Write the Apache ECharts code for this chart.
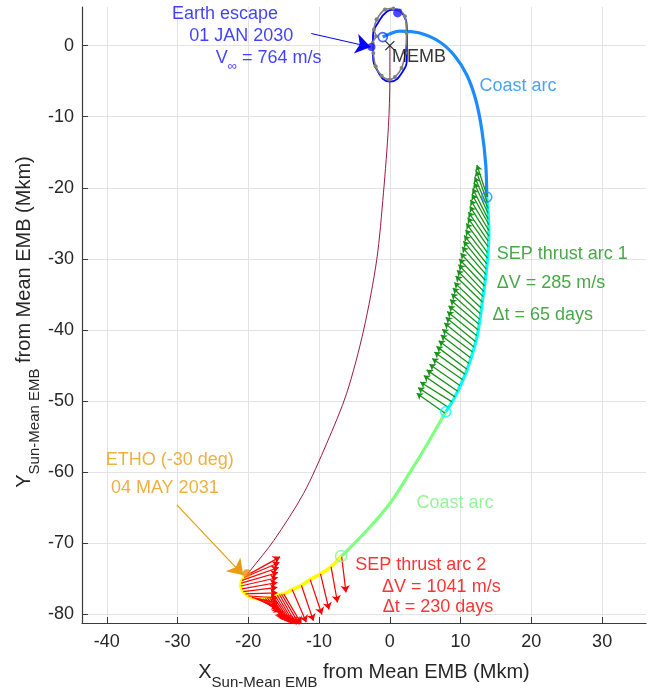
<!DOCTYPE html>
<html>
<head>
<meta charset="utf-8">
<script src="https://cdn.jsdelivr.net/npm/echarts@6/dist/echarts.min.js"></script>
<style>
  html, body { margin: 0; padding: 0; background: #ffffff; }
  #chart { width: 652px; height: 692px; }
</style>
</head>
<body>
<div id="chart"></div>
<script>
// ---- Trajectory data (Mkm, Sun-Mean EMB rotating frame) ----
const xTicks = [-40, -30, -20, -10, 0, 10, 20, 30];
const yTicks = [0, -10, -20, -30, -40, -50, -60, -70, -80];

// Earth's path around the mean EMB
const earthOrbit = [
  [0.44, 5.07], [1.71, 4.65], [2.41, 1.83], [2.41, -1.55], [1.71, -3.8], [0.02, -5.07],
  [-1.67, -3.66], [-2.38, -0.99], [-2.38, 1.27], [-1.39, 3.66], [-0.4, 4.79], [0.44, 5.07]
];
const earthSamples = [
  [-1.86, 3.66], [-0.69, 5.07], [0.49, 5.21], [1.43, 4.93], [2.13, 4.13], [2.37, 1.79],
  [2.18, -1.03], [1.66, -3.15], [0.72, -4.41], [-0.08, -4.79], [-1.16, -4.23], [-2.0, -2.91],
  [-2.33, -1.03], [-2.42, 0.38], [-1.95, 1.31], [-2.24, 2.25], [-1.86, 3.66]
];

// Spacecraft trajectory legs
const coastArc1 = [
  [-1.0, 1.21], [1.41, 2.05], [4.24, 1.77], [7.06, 0.51], [9.18, -1.46], [10.88, -4.14],
  [12.15, -7.65], [13.0, -11.87], [13.56, -16.82], [13.7, -21.3]
];
const thrustArc1 = [
  [13.7, -21.3], [14.0, -26.3], [13.7, -31.1], [13.1, -35.8], [12.3, -41.0],
  [10.9, -45.6], [9.2, -49.4], [7.9, -51.5]
];
const coastArc2 = [
  [7.9, -51.5], [5.2, -56.2], [2.8, -60.1], [0.0, -64.4], [-2.8, -67.7], [-6.6, -71.6], [-6.9, -71.85]
];
const thrustArc2 = [
  [-6.9, -71.85], [-8.3, -73.3], [-9.8, -74.3], [-11.25, -75.1], [-12.5, -75.9], [-13.8, -76.5],
  [-15.0, -77.1], [-15.6, -77.2], [-16.2, -77.4], [-16.7, -77.6], [-17.3, -77.7], [-17.9, -77.8],
  [-18.4, -77.8], [-19.0, -77.75], [-19.5, -77.6], [-20.0, -77.4], [-20.4, -77.1], [-20.7, -76.8],
  [-20.9, -76.4], [-21.05, -76.0], [-21.0, -75.6], [-20.9, -75.2], [-20.6, -74.8], [-20.2, -74.5]
];
// Direct transfer from the EMB to the ETHO point
const transferArc = [
  [0.0, 0.0], [0.0, -4.8], [-0.2, -11.4], [-0.9, -20.7], [-1.85, -30.1], [-3.7, -40.0],
  [-6.1, -48.9], [-8.9, -55.9], [-12.2, -63.0], [-16.4, -69.6], [-19.7, -73.8], [-20.2, -74.4]
];

// Thrust vectors: [tailX, tailY, headX, headY]
const thrustVectors1 = [
  [13.8, -21.3, 12.3, -16.8], [13.8, -22.1, 12.2, -17.6], [13.9, -22.9, 12.0, -18.5],
  [13.9, -23.6, 11.9, -19.3], [13.9, -24.4, 11.7, -20.1], [14.0, -25.2, 11.6, -20.9],
  [14.0, -26.0, 11.4, -21.7], [14.0, -26.8, 11.3, -22.6], [13.9, -27.5, 11.1, -23.4],
  [13.9, -28.3, 11.0, -24.2], [13.8, -29.1, 10.8, -25.0], [13.8, -29.9, 10.7, -25.9],
  [13.7, -30.7, 10.5, -26.7], [13.6, -31.4, 10.4, -27.5], [13.6, -32.2, 10.2, -28.3],
  [13.5, -33.0, 10.0, -29.2], [13.4, -33.8, 9.8, -30.0], [13.3, -34.6, 9.7, -30.8],
  [13.2, -35.3, 9.5, -31.6], [13.1, -36.1, 9.3, -32.4], [12.9, -36.9, 9.1, -33.3],
  [12.8, -37.7, 8.9, -34.1], [12.7, -38.5, 8.7, -34.9], [12.6, -39.2, 8.5, -35.7],
  [12.5, -40.0, 8.3, -36.6], [12.3, -40.8, 8.1, -37.4], [12.1, -41.6, 7.9, -38.2],
  [11.9, -42.4, 7.7, -39.0], [11.7, -43.1, 7.4, -39.9], [11.4, -43.9, 7.2, -40.7],
  [11.2, -44.7, 6.9, -41.5], [10.9, -45.5, 6.6, -42.3], [10.6, -46.2, 6.3, -43.1],
  [10.3, -47.0, 6.0, -44.0], [9.9, -47.8, 5.6, -44.8], [9.6, -48.6, 5.2, -45.6],
  [9.2, -49.4, 4.8, -46.4], [8.8, -50.1, 4.3, -47.3], [8.3, -50.9, 4.0, -48.1],
  [7.8, -51.7, 3.8, -48.9]
];
const thrustVectors2 = [
  [-6.8, -71.9, -6.2, -76.9], [-8.3, -73.3, -7.4, -78.3], [-9.8, -74.3, -8.6, -79.3],
  [-11.25, -75.1, -9.6, -80.0], [-12.5, -75.9, -10.8, -80.9], [-13.8, -76.5, -11.8, -81.1],
  [-15.0, -77.1, -12.5, -81.3], [-15.3, -77.15, -12.8, -81.4], [-15.6, -77.2, -13.2, -81.4],
  [-15.9, -77.3, -13.5, -81.35], [-16.2, -77.4, -13.7, -81.3], [-16.45, -77.5, -14.0, -81.2],
  [-16.7, -77.6, -14.25, -81.1], [-17.0, -77.65, -14.5, -80.95], [-17.3, -77.7, -14.7, -80.8],
  [-17.6, -77.75, -14.9, -80.55], [-17.9, -77.8, -15.1, -80.3], [-18.4, -77.8, -15.4, -79.7],
  [-18.7, -77.8, -15.55, -79.4], [-19.0, -77.75, -15.7, -79.1], [-19.5, -77.6, -15.8, -78.4],
  [-20.0, -77.4, -15.9, -77.65], [-20.4, -77.1, -15.9, -76.95], [-20.7, -76.8, -15.9, -76.2],
  [-20.9, -76.4, -15.9, -75.5], [-21.05, -76.0, -15.85, -74.8], [-21.0, -75.6, -15.8, -74.1],
  [-20.9, -75.2, -15.7, -73.4], [-20.6, -74.8, -15.6, -72.7], [-20.2, -74.5, -15.5, -71.9]
];

// Leg boundaries and event points
const legStart = [-1.0, 1.2];
const thrust1Start = [13.7, -21.3];
const coast2Start = [7.9, -51.5];
const thrust2Start = [-6.9, -71.8];
const escapePoint = [-2.6, -0.2];
const earthNow = [1.1, 4.6];
const embPoint = [0, 0];
const ethoPoint = [-20.2, -74.2];
const escapeCallout = [[-11.1, 1.7], [-2.7, -0.2]];
const ethoCallout = [[-30.1, -64.6], [-20.7, -74.5]];

// ---- Styling ----
const FONT = '"Liberation Sans", Arial, Helvetica, sans-serif';
const AXIS_TEXT = '#262626';
const C_BLUE = '#0000ff';
const C_TEXT_BLUE = '#1010ff';
const C_COAST1 = '#1a8cff';
const C_THRUST1 = '#00ffff';
const C_COAST2 = '#80ff80';
const C_THRUST2 = '#ffff00';
const C_GREEN = '#1a921a';
const C_RED = '#ff0000';
const C_ORANGE = '#e89c12';
const C_TRANSFER = '#9b1b3a';

function path(name, data, color, width, extra) {
  return Object.assign({
    name, type: 'line', data, smooth: 0.35, showSymbol: false, symbol: 'none',
    lineStyle: { color, width }, silent: true, z: 3
  }, extra || {});
}
function vectors(name, list, color, width, head, z) {
  return {
    name, type: 'lines', coordinateSystem: 'cartesian2d', silent: true, z, clip: false,
    symbol: ['none', 'arrow'], symbolSize: head,
    lineStyle: { color, width, opacity: 1, curveness: 0 },
    data: list.map(v => ({ coords: [[v[0], v[1]], [v[2], v[3]]] }))
  };
}
function ring(point, color, size) {
  return {
    type: 'scatter', data: [point], symbol: 'circle', symbolSize: size, silent: true, z: 6,
    itemStyle: { color: 'rgba(0,0,0,0)', borderColor: color, borderWidth: 1.6 }
  };
}
function dot(point, color, size) {
  return {
    type: 'scatter', data: [point], symbol: 'circle', symbolSize: size, silent: true, z: 6,
    itemStyle: { color }
  };
}
function note(point, text, color, align, rich) {
  return {
    type: 'scatter', data: [point], symbolSize: 0, silent: true, z: 10,
    label: {
      show: true, position: [0, 0], align, verticalAlign: 'middle',
      formatter: text, color, fontSize: 18, fontFamily: FONT, rich: rich || {}
    }
  };
}

const series = [
  path('transfer', transferArc, C_TRANSFER, 1, { smooth: 0.3, z: 2 }),
  path('earthOrbit', earthOrbit, C_BLUE, 1.8, { smooth: 0.5, z: 4 }),
  path('earthSamples', earthSamples, '#7f7f7f', 1.6, {
    showSymbol: true, symbol: 'circle', symbolSize: 4,
    itemStyle: { color: '#7f7f7f' }, z: 5
  }),
  path('coast1', coastArc1, C_COAST1, 3.2, { smooth: 0.3 }),
  path('thrust1', thrustArc1, C_THRUST1, 3.2),
  path('coast2', coastArc2, C_COAST2, 3.2),
  path('thrust2', thrustArc2, C_THRUST2, 3.6),
  vectors('thrustVec1', thrustVectors1, C_GREEN, 1.3, [5, 6], 5),
  vectors('thrustVec2', thrustVectors2, C_RED, 1.2, [5, 7], 5),
  vectors('escapeCallout', [[...escapeCallout[0], ...escapeCallout[1]]], C_BLUE, 1, [12, 15], 8),
  vectors('ethoCallout', [[...ethoCallout[0], ...ethoCallout[1]]], C_ORANGE, 1.2, [12, 15], 8),
  ring(legStart, '#1a3cff', 9),
  ring(thrust1Start, C_COAST1, 10),
  ring(coast2Start, C_THRUST1, 10),
  ring(thrust2Start, C_COAST2, 11),
  dot(earthNow, '#1a1aff', 9),
  dot(escapePoint, '#1a1aff', 8),
  dot(ethoPoint, '#f08a10', 8),
  {
    type: 'scatter', data: [embPoint], symbol: 'path://M0,0L10,10M10,0L0,10', symbolSize: 9,
    silent: true, z: 7, itemStyle: { color: 'rgba(0,0,0,0)', borderColor: '#000', borderWidth: 1.3 }
  },
  note([-23.3, 4.44], 'Earth escape', C_TEXT_BLUE, 'center'),
  note([-21.0, 1.35], '01 JAN 2030', C_TEXT_BLUE, 'center'),
  note([-24.6, -1.7], '{v|V}{s|∞}{v| = 764 m/s}', C_TEXT_BLUE, 'left', {
    v: { fontSize: 18, fontFamily: FONT, color: C_TEXT_BLUE },
    s: { fontSize: 13, fontFamily: FONT, color: C_TEXT_BLUE, padding: [18, 0, 0, 0] }
  }),
  note([0.3, -1.6], 'MEMB', '#000000', 'left'),
  note([18.1, -5.7], 'Coast arc', C_COAST1, 'center'),
  note([15.1, -29.3], 'SEP thrust arc 1', C_GREEN, 'left'),
  note([15.1, -33.4], 'ΔV = 285 m/s', C_GREEN, 'left'),
  note([14.5, -37.9], 'Δt = 65 days', C_GREEN, 'left'),
  note([9.2, -64.3], 'Coast arc', '#7df07d', 'center'),
  note([-31.1, -58.3], 'ETHO (-30 deg)', C_ORANGE, 'center'),
  note([-31.8, -62.2], '04 MAY 2031', C_ORANGE, 'center'),
  note([-4.9, -73.1], 'SEP thrust arc 2', C_RED, 'left'),
  note([-1.1, -76.1], 'ΔV = 1041 m/s', C_RED, 'left'),
  note([-1.0, -79.0], 'Δt = 230 days', C_RED, 'left')
];

function axis(min, max, ticks, margin) {
  return {
    type: 'value', min, max,
    axisLine: { show: true, onZero: false, lineStyle: { color: '#3a3a3a', width: 1.2 } },
    axisTick: { show: true, inside: true, length: 6, customValues: ticks, lineStyle: { color: '#3a3a3a' } },
    axisLabel: { customValues: ticks, color: AXIS_TEXT, fontSize: 18, fontFamily: FONT, margin },
    splitLine: { show: true, lineStyle: { color: '#e3e3e3', width: 1 } }
  };
}

function axisTitle(letter, x, y, rotation) {
  return {
    type: 'text', x, y, rotation, silent: true,
    style: {
      text: '{m|' + letter + '}{s|Sun-Mean EMB}{m| from Mean EMB (Mkm)}',
      align: 'center', verticalAlign: 'middle', fill: AXIS_TEXT,
      rich: {
        m: { fontSize: 20, fontFamily: FONT, fill: AXIS_TEXT },
        s: { fontSize: 15, fontFamily: FONT, fill: AXIS_TEXT, padding: [21, 0, 0, 0] }
      }
    }
  };
}

const chart = echarts.init(document.getElementById('chart'), null, { renderer: 'canvas' });
chart.setOption({
  animation: false,
  backgroundColor: '#ffffff',
  grid: { left: 82, right: 6, top: 7, bottom: 69, containLabel: false },
  xAxis: axis(-43.5, 36.2, xTicks, 10),
  yAxis: axis(-81.2, 5.43, yTicks, 8),
  series,
  graphic: [
    axisTitle('X', 364, 672, 0),
    axisTitle('Y', 24, 322, Math.PI / 2)
  ]
});
</script>
</body>
</html>
